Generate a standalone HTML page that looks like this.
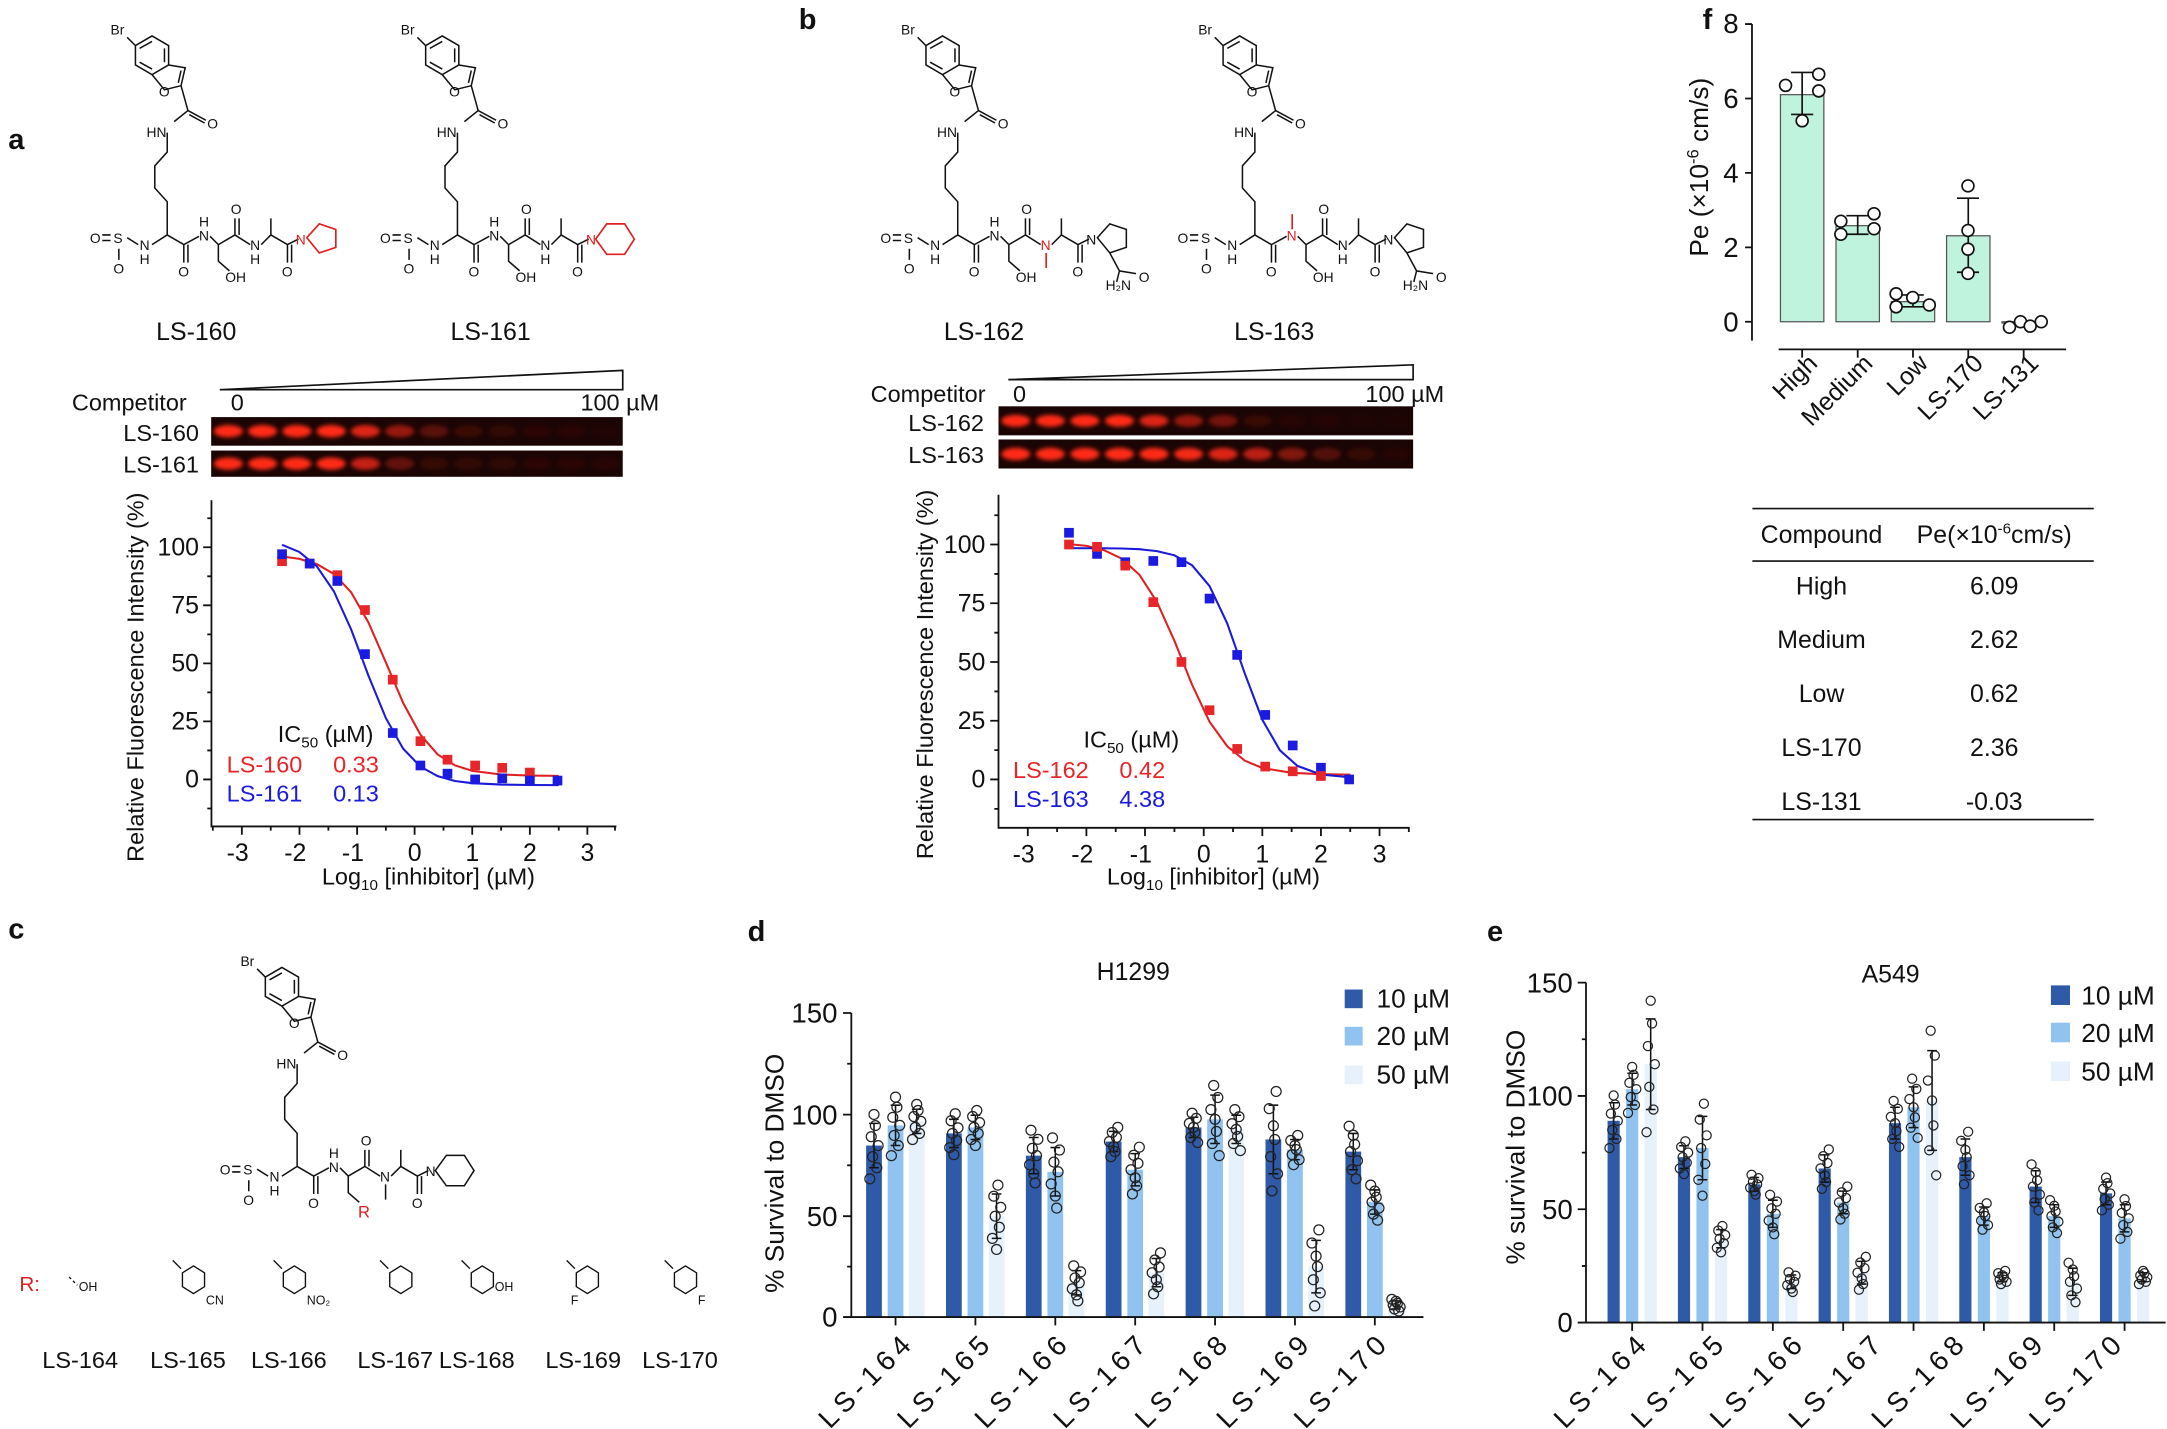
<!DOCTYPE html>
<html><head><meta charset="utf-8"><style>
html,body{margin:0;padding:0;background:#fff}
svg{display:block}
text{font-family:"Liberation Sans",Arial,sans-serif;fill:#111}
.b{font-weight:bold}
</style></head><body>
<svg id="s" width="2167" height="1429" viewBox="0 0 1568 1034" preserveAspectRatio="none" xmlns="http://www.w3.org/2000/svg">
<defs>
<filter id="bl" x="-50%" y="-80%" width="200%" height="260%"><feGaussianBlur stdDeviation="1.6"/></filter>
</defs>
<rect width="1568" height="1034" fill="#fff"/>

<!-- panel letters -->
<text x="6" y="108" font-size="21" class="b">a</text>
<text x="578" y="21" font-size="21" class="b">b</text>
<text x="6" y="679" font-size="21" class="b">c</text>
<text x="541" y="681" font-size="21" class="b">d</text>
<text x="1076" y="681" font-size="21" class="b">e</text>
<text x="1232" y="21" font-size="21" class="b">f</text>

<!-- ===== Structures ===== -->
<g id="st160" fill="none" stroke="#111" stroke-width="1.1">
<path d="M110,26 L122,33 L122,47 L110,54 L98,47 L98,33 Z M101,35 L110,30 M119,35 L119,45 M110,50 L101,45 M98,33 L92,27 M122,47 L134,49 L131,62 L119,65 L110,54 M131,51 L129,60 M131,62 L136,80 M136,80 L149,87 M137,83 L148,89 M136,80 L126,88 M121,96 L121,110 L112,120 L112,136 L121,146 L121,170 M121,170 L110,177 M100,177 L92,172 M80,170 L74,170 M80,174 L74,174 M86,180 L86,188 M121,170 L133,177 L133,190 M136,177 L136,190 M133,177 L144,171 M152,171 L158,177 M158,177 L158,189 L166,196 M158,177 L170,170 L170,158 M173,170 L173,158 M170,170 L181,177 M189,177 L196,170 L196,158 M196,170 L208,177 L208,190 M211,177 L211,190 M208,177 L216,173"/>
</g>
<g font-size="10">
<text x="80" y="25">Br</text><text x="115" y="70">O</text><text x="150" y="93">O</text><text x="106" y="99">HN</text>
<text x="101" y="181">N</text><text x="101" y="191">H</text><text x="82" y="176">S</text><text x="65" y="176">O</text><text x="82" y="198">O</text>
<text x="129" y="200">O</text><text x="144" y="174">N</text><text x="144" y="164">H</text><text x="163" y="204">OH</text><text x="167" y="155">O</text>
<text x="181" y="181">N</text><text x="181" y="191">H</text><text x="204" y="200">O</text><text x="214" y="177" style="fill:#e02020">N</text>
</g>
<path d="M222,172 L231,162 L243,166 L243,179 L231,183 Z" fill="none" stroke="#e02020" stroke-width="1.2"/>
<text x="142" y="246" font-size="18" text-anchor="middle">LS-160</text>

<use href="#st160" transform="translate(210,0)"/>
<g font-size="10" transform="translate(210,0)">
<text x="80" y="25">Br</text><text x="115" y="70">O</text><text x="150" y="93">O</text><text x="106" y="99">HN</text>
<text x="101" y="181">N</text><text x="101" y="191">H</text><text x="82" y="176">S</text><text x="65" y="176">O</text><text x="82" y="198">O</text>
<text x="129" y="200">O</text><text x="144" y="174">N</text><text x="144" y="164">H</text><text x="163" y="204">OH</text><text x="167" y="155">O</text>
<text x="181" y="181">N</text><text x="181" y="191">H</text><text x="204" y="200">O</text><text x="214" y="177" style="fill:#e02020">N</text>
</g>
<path transform="translate(210,0)" d="M221,173 L229,162 L242,162 L249,173 L242,184 L229,184 Z" fill="none" stroke="#e02020" stroke-width="1.2"/>
<text x="355" y="246" font-size="18" text-anchor="middle">LS-161</text>

<use href="#st160" transform="translate(572,0)"/>
<g font-size="10" transform="translate(572,0)">
<text x="80" y="25">Br</text><text x="115" y="70">O</text><text x="150" y="93">O</text><text x="106" y="99">HN</text>
<text x="101" y="181">N</text><text x="101" y="191">H</text><text x="82" y="176">S</text><text x="65" y="176">O</text><text x="82" y="198">O</text>
<text x="129" y="200">O</text><text x="163" y="204">OH</text><text x="167" y="155">O</text>
<text x="144" y="174">N</text><text x="144" y="164">H</text>
<text x="181" y="181" style="fill:#e02020">N</text><text x="204" y="200">O</text><text x="214" y="177">N</text><text x="228" y="210">H₂N</text><text x="252" y="204">O</text>
</g>
<path transform="translate(572,0)" d="M185,183 L185,194" stroke="#e02020" stroke-width="1.2"/>
<path transform="translate(572,0)" d="M222,172 L231,162 L243,166 L243,179 L231,183 Z M231,183 L238,196 L250,198 M238,196 L236,204" fill="none" stroke="#111" stroke-width="1.1"/>
<text x="712" y="246" font-size="18" text-anchor="middle">LS-162</text>

<use href="#st160" transform="translate(787,0)"/>
<g font-size="10" transform="translate(787,0)">
<text x="80" y="25">Br</text><text x="115" y="70">O</text><text x="150" y="93">O</text><text x="106" y="99">HN</text>
<text x="101" y="181">N</text><text x="101" y="191">H</text><text x="82" y="176">S</text><text x="65" y="176">O</text><text x="82" y="198">O</text>
<text x="129" y="200">O</text><text x="163" y="204">OH</text><text x="167" y="155">O</text>
<text x="144" y="174" style="fill:#e02020">N</text>
<text x="181" y="181">N</text><text x="181" y="191">H</text><text x="204" y="200">O</text><text x="214" y="177">N</text><text x="228" y="210">H₂N</text><text x="252" y="204">O</text>
</g>
<path transform="translate(787,0)" d="M148,166 L148,155" stroke="#e02020" stroke-width="1.2"/>
<path transform="translate(787,0)" d="M222,172 L231,162 L243,166 L243,179 L231,183 Z M231,183 L238,196 L250,198 M238,196 L236,204" fill="none" stroke="#111" stroke-width="1.1"/>
<text x="922" y="246" font-size="18" text-anchor="middle">LS-163</text>

<!-- c structure -->
<use href="#st160" transform="translate(94,674)"/>
<g font-size="10" transform="translate(94,674)">
<text x="80" y="25">Br</text><text x="115" y="70">O</text><text x="150" y="93">O</text><text x="106" y="99">HN</text>
<text x="101" y="181">N</text><text x="101" y="191">H</text><text x="82" y="176">S</text><text x="65" y="176">O</text><text x="82" y="198">O</text>
<text x="129" y="200">O</text><text x="144" y="174">N</text><text x="144" y="164">H</text><text x="167" y="155">O</text>
<text x="181" y="181">N</text><text x="204" y="200">O</text><text x="214" y="177">N</text>
<text x="165" y="207" font-size="12" style="fill:#e02020">R</text>
</g>
<path transform="translate(94,674)" d="M185,183 L185,194 M221,173 L229,162 L242,162 L249,173 L242,184 L229,184 Z" fill="none" stroke="#111" stroke-width="1.1"/>

<!-- substituents row -->
<text x="14" y="934" font-size="15" style="fill:#e02020">R:</text>
<g fill="none" stroke="#111" stroke-width="1">
<path d="M50,924 L56,930" stroke-dasharray="2,2"/>
<path d="M125,912 L131,918 M140,916 L148,921 L148,931 L140,936 L132,931 L132,921 Z" />
<path d="M198,912 L204,918 M213,916 L221,921 L221,931 L213,936 L205,931 L205,921 Z"/>
<path d="M275,912 L281,918 M290,916 L298,921 L298,931 L290,936 L282,931 L282,921 Z"/>
<path d="M334,912 L340,918 M349,916 L357,921 L357,931 L349,936 L341,931 L341,921 Z"/>
<path d="M410,912 L416,918 M425,916 L433,921 L433,931 L425,936 L417,931 L417,921 Z"/>
<path d="M481,912 L487,918 M496,916 L504,921 L504,931 L496,936 L488,931 L488,921 Z"/>
</g>
<g font-size="9"><text x="57" y="934">OH</text><text x="149" y="944">CN</text><text x="222" y="944">NO₂</text><text x="358" y="934">OH</text><text x="413" y="944">F</text><text x="505" y="944">F</text></g>
<g font-size="17" text-anchor="middle">
<text x="58" y="990">LS-164</text><text x="136" y="990">LS-165</text><text x="209" y="990">LS-166</text><text x="286" y="990">LS-167</text><text x="345" y="990">LS-168</text><text x="422" y="990">LS-169</text><text x="492" y="990">LS-170</text>
</g>

<!-- ===== Gels a ===== -->
<polygon points="159,282 450.6,268 450.6,282" fill="none" stroke="#111" stroke-width="1.2"/>
<text x="52" y="297" font-size="17">Competitor</text>
<text x="167" y="297" font-size="17">0</text>
<text x="420" y="297" font-size="17">100 µM</text>
<text x="144" y="319" font-size="17" text-anchor="end">LS-160</text>
<text x="144" y="342" font-size="17" text-anchor="end">LS-161</text>
<rect x="152.8" y="301.8" width="297.8" height="20.7" fill="#1a0504"/>
<rect x="152.8" y="326" width="297.8" height="19" fill="#1a0504"/>
<g filter="url(#bl)" fill="#ff2a18">
<ellipse cx="165.2" cy="312" rx="10.5" ry="4.5"/><ellipse cx="190" cy="312" rx="10.5" ry="4.5"/><ellipse cx="214.8" cy="312" rx="10.5" ry="4.5"/><ellipse cx="239.6" cy="312" rx="10.5" ry="4.5"/><ellipse cx="264.4" cy="312" rx="10.5" ry="4.5" opacity=".85"/><ellipse cx="289.2" cy="312" rx="10.5" ry="4.5" opacity=".55"/><ellipse cx="314" cy="312" rx="10.5" ry="4.5" opacity=".28"/><ellipse cx="338.8" cy="312" rx="10.5" ry="4.5" opacity=".14"/><ellipse cx="363.6" cy="312" rx="10.5" ry="4.5" opacity=".1"/><ellipse cx="388.4" cy="312" rx="10.5" ry="4.5" opacity=".08"/><ellipse cx="413.2" cy="312" rx="10.5" ry="4.5" opacity=".07"/><ellipse cx="438" cy="312" rx="10.5" ry="4.5" opacity=".03"/>
<ellipse cx="165.2" cy="335.5" rx="10.5" ry="4.5"/><ellipse cx="190" cy="335.5" rx="10.5" ry="4.5"/><ellipse cx="214.8" cy="335.5" rx="10.5" ry="4.5"/><ellipse cx="239.6" cy="335.5" rx="10.5" ry="4.5"/><ellipse cx="264.4" cy="335.5" rx="10.5" ry="4.5" opacity=".75"/><ellipse cx="289.2" cy="335.5" rx="10.5" ry="4.5" opacity=".32"/><ellipse cx="314" cy="335.5" rx="10.5" ry="4.5" opacity=".12"/><ellipse cx="338.8" cy="335.5" rx="10.5" ry="4.5" opacity=".1"/><ellipse cx="363.6" cy="335.5" rx="10.5" ry="4.5" opacity=".09"/><ellipse cx="388.4" cy="335.5" rx="10.5" ry="4.5" opacity=".08"/><ellipse cx="413.2" cy="335.5" rx="10.5" ry="4.5" opacity=".07"/><ellipse cx="438" cy="335.5" rx="10.5" ry="4.5" opacity=".06"/>
</g>

<!-- ===== Gels b ===== -->
<polygon points="729.6,274.7 1022.5,264 1022.5,274.7" fill="none" stroke="#111" stroke-width="1.2"/>
<text x="630" y="291" font-size="17">Competitor</text>
<text x="733" y="291" font-size="17">0</text>
<text x="988" y="291" font-size="17">100 µM</text>
<text x="712" y="312" font-size="17" text-anchor="end">LS-162</text>
<text x="712" y="335" font-size="17" text-anchor="end">LS-163</text>
<rect x="722.5" y="294" width="300" height="21" fill="#1a0504"/>
<rect x="722.5" y="318" width="300" height="21" fill="#1a0504"/>
<g filter="url(#bl)" fill="#ff2a18">
<ellipse cx="735" cy="304.5" rx="10.5" ry="4.3"/><ellipse cx="760" cy="304.5" rx="10.5" ry="4.3"/><ellipse cx="785" cy="304.5" rx="10.5" ry="4.3"/><ellipse cx="810" cy="304.5" rx="10.5" ry="4.3"/><ellipse cx="835" cy="304.5" rx="10.5" ry="4.3" opacity=".85"/><ellipse cx="860" cy="304.5" rx="10.5" ry="4.3" opacity=".55"/><ellipse cx="885" cy="304.5" rx="10.5" ry="4.3" opacity=".4"/><ellipse cx="910" cy="304.5" rx="10.5" ry="4.3" opacity=".13"/><ellipse cx="935" cy="304.5" rx="10.5" ry="4.3" opacity=".06"/><ellipse cx="960" cy="304.5" rx="10.5" ry="4.3" opacity=".05"/><ellipse cx="985" cy="304.5" rx="10.5" ry="4.3" opacity=".03"/><ellipse cx="1010" cy="304.5" rx="10.5" ry="4.3" opacity=".02"/>
<ellipse cx="735" cy="328.5" rx="10.5" ry="4.5"/><ellipse cx="760" cy="328.5" rx="10.5" ry="4.5"/><ellipse cx="785" cy="328.5" rx="10.5" ry="4.5"/><ellipse cx="810" cy="328.5" rx="10.5" ry="4.5"/><ellipse cx="835" cy="328.5" rx="10.5" ry="4.5"/><ellipse cx="860" cy="328.5" rx="10.5" ry="4.5" opacity=".95"/><ellipse cx="885" cy="328.5" rx="10.5" ry="4.5" opacity=".85"/><ellipse cx="910" cy="328.5" rx="10.5" ry="4.5" opacity=".7"/><ellipse cx="935" cy="328.5" rx="10.5" ry="4.5" opacity=".45"/><ellipse cx="960" cy="328.5" rx="10.5" ry="4.5" opacity=".25"/><ellipse cx="985" cy="328.5" rx="10.5" ry="4.5" opacity=".12"/><ellipse cx="1010" cy="328.5" rx="10.5" ry="4.5" opacity=".05"/>
</g>

<!-- ===== Chart a ===== -->
<g stroke="#111" stroke-width="1.3" fill="none">
<path d="M153,362 L153,598 L446,598"/>
<path d="M153,564 h-6 M153,522 h-6 M153,480 h-6 M153,438 h-6 M153,396 h-6 M153,585 h-3 M153,543 h-3 M153,501 h-3 M153,459 h-3 M153,417 h-3 M153,375 h-3"/>
<path d="M175,598 v6 M216.7,598 v6 M258.4,598 v6 M300,598 v6 M341.7,598 v6 M383.4,598 v6 M425,598 v6 M154,598 v3 M195.9,598 v3 M237.6,598 v3 M279.2,598 v3 M320.9,598 v3 M362.6,598 v3 M404.3,598 v3 M445,598 v3"/>
</g>
<g font-size="18" text-anchor="end"><text x="144" y="570">0</text><text x="144" y="528">25</text><text x="144" y="486">50</text><text x="144" y="444">75</text><text x="144" y="402">100</text></g>
<g font-size="18" text-anchor="middle"><text x="172" y="623">-3</text><text x="213.7" y="623">-2</text><text x="255.4" y="623">-1</text><text x="300" y="623">0</text><text x="341.7" y="623">1</text><text x="383.4" y="623">2</text><text x="425" y="623">3</text></g>
<text x="310" y="640" font-size="17" text-anchor="middle">Log<tspan font-size="11" dy="4">10</tspan><tspan dy="-4"> [inhibitor] (µM)</tspan></text>
<text transform="translate(104,490) rotate(-90)" font-size="17" text-anchor="middle">Relative Fluorescence Intensity (%)</text>
<path d="M204.1,402.6 L216.6,404.4 L229.1,408.1 L241.6,415.3 L254.1,428.6 L266.6,450.4 L279.2,479.3 L291.7,508.6 L304.2,531.6 L316.7,545.9 L329.2,553.8 L341.7,557.8 L362.6,560.4 L383.4,561.2 L404.3,561.4" fill="none" stroke="#e02020" stroke-width="1.5"/>
<path d="M204.1,394.2 L216.6,399.4 L229.1,409.6 L241.6,427.9 L254.1,455.5 L266.6,488.9 L279.2,519.6 L291.7,541.7 L304.2,554.7 L316.7,561.6 L329.2,565.1 L341.7,566.7 L362.6,567.7 L383.4,568 L404.3,568.1" fill="none" stroke="#1a1ad8" stroke-width="1.5"/>
<g fill="#e8262a"><rect x="200.6" y="402.6" width="7" height="7"/><rect x="220.6" y="404.3" width="7" height="7"/><rect x="240.6" y="412.7" width="7" height="7"/><rect x="260.6" y="437.9" width="7" height="7"/><rect x="280.7" y="488.3" width="7" height="7"/><rect x="300.7" y="532.8" width="7" height="7"/><rect x="320.3" y="546.2" width="7" height="7"/><rect x="340.3" y="550.4" width="7" height="7"/><rect x="359.9" y="552.1" width="7" height="7"/><rect x="379.9" y="555.5" width="7" height="7"/></g>
<g fill="#1a1ae0"><rect x="200.6" y="397.5" width="7" height="7"/><rect x="220.6" y="404.3" width="7" height="7"/><rect x="240.6" y="416.9" width="7" height="7"/><rect x="260.6" y="469.8" width="7" height="7"/><rect x="280.7" y="526.9" width="7" height="7"/><rect x="300.7" y="550.4" width="7" height="7"/><rect x="320.3" y="556.3" width="7" height="7"/><rect x="340.3" y="560.5" width="7" height="7"/><rect x="359.9" y="559.7" width="7" height="7"/><rect x="379.9" y="561.3" width="7" height="7"/><rect x="399.9" y="561.3" width="7" height="7"/></g>
<text x="201" y="537" font-size="17">IC<tspan font-size="11" dy="4">50</tspan><tspan dy="-4"> (µM)</tspan></text>
<text x="164" y="559" font-size="17" style="fill:#e8262a">LS-160</text><text x="241" y="559" font-size="17" style="fill:#e8262a">0.33</text>
<text x="164" y="580" font-size="17" style="fill:#1a1ae0">LS-161</text><text x="241" y="580" font-size="17" style="fill:#1a1ae0">0.13</text>

<!-- ===== Chart b ===== -->
<g stroke="#111" stroke-width="1.3" fill="none">
<path d="M722.5,358 L722.5,599 L1020,599"/>
<path d="M722.5,564 h-6 M722.5,521.5 h-6 M722.5,479 h-6 M722.5,436.5 h-6 M722.5,394 h-6 M722.5,585.3 h-3 M722.5,542.8 h-3 M722.5,500.3 h-3 M722.5,457.8 h-3 M722.5,415.3 h-3 M722.5,372.8 h-3"/>
<path d="M743.7,599 v6 M786.1,599 v6 M828.5,599 v6 M871,599 v6 M913.4,599 v6 M955.8,599 v6 M998.2,599 v6 M764.9,599 v3 M807.3,599 v3 M849.8,599 v3 M892.2,599 v3 M934.6,599 v3 M977,599 v3 M1019.4,599 v3"/>
</g>
<g font-size="18" text-anchor="end"><text x="713" y="570">0</text><text x="713" y="527.5">25</text><text x="713" y="485">50</text><text x="713" y="442.5">75</text><text x="713" y="400">100</text></g>
<g font-size="18" text-anchor="middle"><text x="740.7" y="624">-3</text><text x="783.1" y="624">-2</text><text x="825.5" y="624">-1</text><text x="871" y="624">0</text><text x="913.4" y="624">1</text><text x="955.8" y="624">2</text><text x="998.2" y="624">3</text></g>
<text x="878" y="640" font-size="17" text-anchor="middle">Log<tspan font-size="11" dy="4">10</tspan><tspan dy="-4"> [inhibitor] (µM)</tspan></text>
<text transform="translate(675,488) rotate(-90)" font-size="17" text-anchor="middle">Relative Fluorescence Intensity (%)</text>
<path d="M773.5,393.7 L786.2,395 L798.9,398.1 L811.6,404.2 L824.4,415.8 L837.1,435.5 L849.8,463.7 L862.5,495.3 L875.2,522.2 L888,540 L900.7,550.4 L913.4,555.7 L934.6,559.2 L955.8,560.2 L977,560.5" fill="none" stroke="#e02020" stroke-width="1.5"/>
<path d="M773.5,396.6 L786.2,396.7 L798.9,396.7 L811.6,396.9 L824.4,397.4 L837.1,398.8 L849.8,401.8 L862.5,409 L875.2,424.1 L888,451.1 L900.7,487.3 L913.4,520.8 L926.1,542.9 L938.8,554.2 L955.8,560.4 L977,562.5" fill="none" stroke="#1a1ad8" stroke-width="1.5"/>
<g fill="#1a1ae0"><rect x="770" y="382" width="7" height="7"/><rect x="790.3" y="397.3" width="7" height="7"/><rect x="810.7" y="403.3" width="7" height="7"/><rect x="831" y="402.4" width="7" height="7"/><rect x="851.4" y="403.3" width="7" height="7"/><rect x="871.7" y="429.6" width="7" height="7"/><rect x="891.7" y="470.4" width="7" height="7"/><rect x="912" y="513.8" width="7" height="7"/><rect x="931.9" y="535.9" width="7" height="7"/><rect x="952.3" y="552" width="7" height="7"/><rect x="972.7" y="560.5" width="7" height="7"/></g>
<g fill="#e8262a"><rect x="770" y="390.5" width="7" height="7"/><rect x="790.3" y="392.2" width="7" height="7"/><rect x="810.7" y="405.8" width="7" height="7"/><rect x="831" y="432.2" width="7" height="7"/><rect x="851.4" y="475.5" width="7" height="7"/><rect x="871.7" y="510.4" width="7" height="7"/><rect x="891.7" y="538.4" width="7" height="7"/><rect x="912" y="551.2" width="7" height="7"/><rect x="931.9" y="554.6" width="7" height="7"/><rect x="952.3" y="558" width="7" height="7"/></g>
<text x="784" y="541" font-size="17">IC<tspan font-size="11" dy="4">50</tspan><tspan dy="-4"> (µM)</tspan></text>
<text x="733" y="563" font-size="17" style="fill:#e8262a">LS-162</text><text x="810" y="563" font-size="17" style="fill:#e8262a">0.42</text>
<text x="733" y="584" font-size="17" style="fill:#1a1ae0">LS-163</text><text x="810" y="584" font-size="17" style="fill:#1a1ae0">4.38</text>

<!-- ===== Chart f ===== -->
<g stroke="#111" stroke-width="1.3" fill="none">
<path d="M1267.7,17.4 L1267.7,246.5 M1287,252.8 L1495,252.8"/>
<path d="M1267.7,17.4 h-5 M1267.7,71.3 h-5 M1267.7,125.1 h-5 M1267.7,179 h-5 M1267.7,232.8 h-5"/>
<path d="M1304,252.8 v6 M1344.2,252.8 v6 M1384.2,252.8 v6 M1424.2,252.8 v6 M1464.3,252.8 v6"/>
</g>
<g font-size="20" text-anchor="end"><text x="1258" y="24">8</text><text x="1258" y="78">6</text><text x="1258" y="132">4</text><text x="1258" y="186">2</text><text x="1258" y="240">0</text></g>
<text transform="translate(1236,121) rotate(-90)" font-size="19" text-anchor="middle">Pe (×10<tspan font-size="12" dy="-7">-6</tspan><tspan dy="7"> cm/s)</tspan></text>
<g fill="#bff3de" stroke="#555" stroke-width="0.9">
<rect x="1288.3" y="68.5" width="31.4" height="164.3"/>
<rect x="1328.5" y="163.3" width="31.4" height="69.5"/>
<rect x="1368.5" y="218.3" width="31.4" height="14.5"/>
<rect x="1408.5" y="170.6" width="31.4" height="62.2"/>
<rect x="1448.6" y="232.8" width="31.4" height="1"/>
</g>
<g stroke="#111" stroke-width="1.2" fill="none">
<path d="M1304,82.8 V52.4 M1296,82.8 h16 M1296,52.4 h16"/>
<path d="M1344.2,169.5 V156.1 M1336,169.5 h16 M1336,156.1 h16"/>
<path d="M1384.2,222 V213.4 M1376,222 h16 M1376,213.4 h16"/>
<path d="M1424.2,197 V143.4 M1416,197 h16 M1416,143.4 h16"/>
<path d="M1456,234 h16"/>
</g>
<g fill="#fff" stroke="#111" stroke-width="1.2">
<circle cx="1292" cy="61.8" r="4.3"/><circle cx="1316" cy="53.7" r="4.3"/><circle cx="1316" cy="65.8" r="4.3"/><circle cx="1304" cy="87.4" r="4.3"/>
<circle cx="1332" cy="160.1" r="4.3"/><circle cx="1332" cy="169.5" r="4.3"/><circle cx="1356" cy="154.7" r="4.3"/><circle cx="1356" cy="165.5" r="4.3"/>
<circle cx="1372" cy="212.6" r="4.3"/><circle cx="1372" cy="222" r="4.3"/><circle cx="1384" cy="215.3" r="4.3"/><circle cx="1396" cy="220.7" r="4.3"/>
<circle cx="1424" cy="134.5" r="4.3"/><circle cx="1424" cy="166.8" r="4.3"/><circle cx="1424" cy="180.3" r="4.3"/><circle cx="1424" cy="197.8" r="4.3"/>
<circle cx="1454" cy="236.8" r="4.3"/><circle cx="1462" cy="232.8" r="4.3"/><circle cx="1469" cy="236" r="4.3"/><circle cx="1477" cy="232.8" r="4.3"/>
</g>
<g font-size="18" text-anchor="end">
<text transform="translate(1316,264) rotate(-45)">High</text>
<text transform="translate(1356,264) rotate(-45)">Medium</text>
<text transform="translate(1396,264) rotate(-45)">Low</text>
<text transform="translate(1436,264) rotate(-45)">LS-170</text>
<text transform="translate(1476,264) rotate(-45)">LS-131</text>
</g>
<!-- table -->
<g stroke="#111" stroke-width="1.2"><path d="M1268,368 H1515 M1268,406 H1515 M1268,593 H1515"/></g>
<g font-size="18" text-anchor="middle">
<text x="1318" y="393">Compound</text>
<text x="1443" y="393">Pe(×10<tspan font-size="11" dy="-7">-6</tspan><tspan dy="7">cm/s)</tspan></text>
<text x="1318" y="430">High</text><text x="1443" y="430">6.09</text>
<text x="1318" y="469">Medium</text><text x="1443" y="469">2.62</text>
<text x="1318" y="508">Low</text><text x="1443" y="508">0.62</text>
<text x="1318" y="547">LS-170</text><text x="1443" y="547">2.36</text>
<text x="1318" y="586">LS-131</text><text x="1443" y="586">-0.03</text>
</g>

<!-- ===== Chart d ===== -->
<text x="820" y="709" font-size="18" text-anchor="middle">H1299</text>
<text transform="translate(567,849) rotate(-90)" font-size="19" text-anchor="middle">% Survival to DMSO</text>
<g fill="#2e5aa8">
<rect x="626.7" y="828.9" width="11.4" height="124.1"/><rect x="684.5" y="820.1" width="11.4" height="132.9"/><rect x="742.3" y="836.2" width="11.4" height="116.8"/><rect x="800.1" y="826" width="11.4" height="127"/><rect x="857.9" y="815.8" width="11.4" height="137.2"/><rect x="915.7" y="824.5" width="11.4" height="128.5"/><rect x="973.5" y="833.3" width="11.4" height="119.7"/>
</g>
<g fill="#90c3ef">
<rect x="642.3" y="814.3" width="11.4" height="138.7"/><rect x="700.1" y="815.8" width="11.4" height="137.2"/><rect x="757.9" y="847.9" width="11.4" height="105.1"/><rect x="815.7" y="846.4" width="11.4" height="106.6"/><rect x="873.5" y="809.9" width="11.4" height="143.1"/><rect x="931.3" y="831.8" width="11.4" height="121.2"/><rect x="989.1" y="869.8" width="11.4" height="83.2"/>
</g>
<g fill="#e6f1fb">
<rect x="657.6" y="811.4" width="11.4" height="141.6"/><rect x="715.4" y="880" width="11.4" height="73"/><rect x="773.2" y="928.2" width="11.4" height="24.8"/><rect x="831" y="920.9" width="11.4" height="32.1"/><rect x="888.8" y="817.2" width="11.4" height="135.8"/><rect x="946.6" y="916.5" width="11.4" height="36.5"/><rect x="1004.4" y="944.2" width="11.4" height="8.8"/>
</g>
<g id="dpts"></g>
<g stroke="#111" stroke-width="1.3" fill="none">
<path d="M616,733 V953 H1030"/>
<path d="M616,733 h-6 M616,806.5 h-6 M616,880 h-6 M616,953 h-6 M616,769.7 h-3 M616,843.2 h-3 M616,916.5 h-3"/>
<path d="M648,953 v6 M705.8,953 v6 M763.6,953 v6 M821.4,953 v6 M879.2,953 v6 M937,953 v6 M994.8,953 v6"/>
</g>
<g font-size="20" text-anchor="end"><text x="606" y="740">150</text><text x="606" y="813.5">100</text><text x="606" y="887">50</text><text x="606" y="960">0</text></g>
<g font-size="20" text-anchor="end" letter-spacing="4">
<text transform="translate(663,972) rotate(-45)">LS-164</text><text transform="translate(720,972) rotate(-45)">LS-165</text><text transform="translate(776,972) rotate(-45)">LS-166</text><text transform="translate(833,972) rotate(-45)">LS-167</text><text transform="translate(892,972) rotate(-45)">LS-168</text><text transform="translate(951,972) rotate(-45)">LS-169</text><text transform="translate(1007,972) rotate(-45)">LS-170</text>
</g>
<rect x="973" y="716" width="13" height="13.5" fill="#2e5aa8"/><rect x="973" y="743" width="13" height="13.5" fill="#90c3ef"/><rect x="973" y="771" width="13" height="13.5" fill="#e6f1fb"/>
<g font-size="19"><text x="996" y="729">10  µM</text><text x="996" y="756">20 µM</text><text x="996" y="784">50 µM</text></g>

<!-- ===== Chart e ===== -->
<text x="1368" y="711" font-size="18" text-anchor="middle">A549</text>
<text transform="translate(1103,830) rotate(-90)" font-size="19" text-anchor="middle">% survival to DMSO</text>
<g fill="#2e5aa8">
<rect x="1163.2" y="811" width="8.8" height="146"/><rect x="1214.1" y="837.3" width="8.8" height="119.7"/><rect x="1265" y="857" width="8.8" height="100"/><rect x="1315.9" y="845.5" width="8.8" height="111.5"/><rect x="1366.8" y="812.7" width="8.8" height="144.3"/><rect x="1417.7" y="837.3" width="8.8" height="119.7"/><rect x="1468.6" y="858.6" width="8.8" height="98.4"/><rect x="1519.5" y="863.5" width="8.8" height="93.5"/>
</g>
<g fill="#90c3ef">
<rect x="1176.6" y="788.1" width="8.8" height="168.9"/><rect x="1227.5" y="830.7" width="8.8" height="126.3"/><rect x="1278.4" y="878.3" width="8.8" height="78.7"/><rect x="1329.3" y="870.1" width="8.8" height="86.9"/><rect x="1380.2" y="801.2" width="8.8" height="155.8"/><rect x="1431.1" y="879.9" width="8.8" height="77.1"/><rect x="1482" y="879.9" width="8.8" height="77.1"/><rect x="1532.9" y="881.6" width="8.8" height="75.4"/>
</g>
<g fill="#e6f1fb">
<rect x="1190" y="770" width="8.8" height="187"/><rect x="1240.9" y="896.3" width="8.8" height="60.7"/><rect x="1291.8" y="927.5" width="8.8" height="29.5"/><rect x="1342.7" y="920.9" width="8.8" height="36.1"/><rect x="1393.6" y="796.3" width="8.8" height="160.7"/><rect x="1444.5" y="924.2" width="8.8" height="32.8"/><rect x="1495.4" y="927.5" width="8.8" height="29.5"/><rect x="1546.3" y="924.2" width="8.8" height="32.8"/>
</g>
<g id="epts"></g>
<g stroke="#111" stroke-width="1.3" fill="none">
<path d="M1147.6,711 V957 H1567"/>
<path d="M1147.6,711 h-6 M1147.6,793 h-6 M1147.6,875 h-6 M1147.6,957 h-6 M1147.6,752 h-3 M1147.6,834 h-3 M1147.6,916 h-3"/>
<path d="M1181,957 v6 M1231.9,957 v6 M1282.8,957 v6 M1333.7,957 v6 M1384.6,957 v6 M1435.5,957 v6 M1486.4,957 v6 M1537.3,957 v6"/>
</g>
<g font-size="20" text-anchor="end"><text x="1138" y="718">150</text><text x="1138" y="800">100</text><text x="1138" y="882">50</text><text x="1138" y="964">0</text></g>
<g font-size="20" text-anchor="end" letter-spacing="4">
<text transform="translate(1195,972) rotate(-45)">LS-164</text><text transform="translate(1251,972) rotate(-45)">LS-165</text><text transform="translate(1308,972) rotate(-45)">LS-166</text><text transform="translate(1365,972) rotate(-45)">LS-167</text><text transform="translate(1425,972) rotate(-45)">LS-168</text><text transform="translate(1482,972) rotate(-45)">LS-169</text><text transform="translate(1539,972) rotate(-45)">LS-170</text>
</g>
<rect x="1484" y="713" width="13.8" height="14.2" fill="#2e5aa8"/><rect x="1484" y="740" width="13.8" height="14.2" fill="#90c3ef"/><rect x="1484" y="768" width="13.8" height="14.2" fill="#e6f1fb"/>
<g font-size="19"><text x="1506" y="727">10  µM</text><text x="1506" y="754">20 µM</text><text x="1506" y="782">50 µM</text></g>
</svg>
<script>
(function(){
var NS="http://www.w3.org/2000/svg";
var Z=[-1.5,-1,-0.5,0,0.4,0.9,1.4];
var JX=[-3,2,-1,3,-2,1,0];
function draw(gid,T,offs,y0,sc,vals,sds,r){
 var g=document.getElementById(gid);var h="";
 for(var k=0;k<T.length;k++){for(var j=0;j<3;j++){
  var cx=T[k]+offs[j],v=vals[k][j],sd=sds[k][j];
  var yt=y0-(v+sd)*sc,yb=y0-(v-sd)*sc;
  h+='<path d="M'+cx+','+yt+' V'+yb+' M'+(cx-3.5)+','+yt+' h7 M'+(cx-3.5)+','+yb+' h7" stroke="#111" stroke-width="1.1" fill="none"/>';
  for(var i=0;i<7;i++){var vv=v+sd*Z[(i+k+j)%7];h+='<circle cx="'+(cx+JX[(i+j)%7])+'" cy="'+(y0-vv*sc)+'" r="'+r+'" fill="none" stroke="#222" stroke-width="0.9"/>';}
 }}
 g.innerHTML=h;
}
var Td=[648,705.8,763.6,821.4,879.2,937,994.8];
draw("dpts",Td,[-15.6,0,15.3],953,1.46,
 [[85,95,97],[91,94,50],[80,72,17],[87,73,22],[94,98,93],[88,83,25],[82,57,6]],
 [[11,10,6],[7,6,11],[9,12,6],[5,8,7],[5,12,7],[17,5,13],[9,6,2]],3.6);
var Te=[1181,1231.9,1282.8,1333.7,1384.6,1435.5,1486.4,1537.3];
draw("epts",Te,[-13.4,0,13.4],957,1.64,
 [[89,103,114],[73,77,37],[61,48,18],[68,53,22],[88,95,98],[73,47,20],[60,47,18],[57,46,20]],
 [[8,7,20],[5,14,4],[3,6,3],[6,5,5],[7,9,22],[8,4,2],[7,5,6],[5,6,2]],3.3);
})();
</script>
</body></html>
